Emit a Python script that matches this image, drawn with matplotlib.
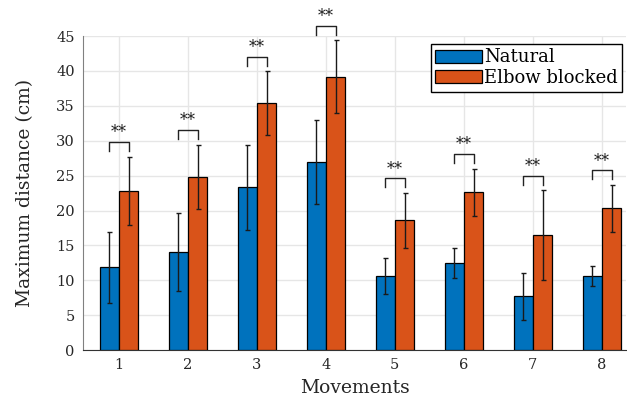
import numpy as np
import matplotlib
matplotlib.use("Agg")
import matplotlib.pyplot as plt

movements = ["1", "2", "3", "4", "5", "6", "7", "8"]
natural_mean = [11.85, 14.0, 23.3, 27.0, 10.6, 12.5, 7.7, 10.65]
natural_sd = [5.1, 5.6, 6.1, 6.0, 2.55, 2.15, 3.35, 1.4]
blocked_mean = [22.8, 24.8, 35.4, 39.2, 18.6, 22.6, 16.5, 20.3]
blocked_sd = [4.9, 4.65, 4.55, 5.2, 3.9, 3.4, 6.4, 3.35]
series_names = ["Natural", "Elbow blocked"]
colors = ["#0072BD", "#D95319"]

plt.rcParams['font.family'] = ['DejaVu Serif']

fig = plt.figure(figsize=(6.27, 4.01), dpi=100, facecolor="white")
ax = fig.add_axes([0.1324, 0.127, 0.866, 0.783])

x = np.arange(1, len(movements) + 1)
w = 0.28
err_kw = dict(ecolor="#1a1a1a", elinewidth=1.0, capsize=1.8, capthick=1.0)
ax.bar(x - w / 2, natural_mean, w, yerr=natural_sd, color=colors[0],
       edgecolor="black", linewidth=0.9, label=series_names[0], error_kw=err_kw, zorder=3)
ax.bar(x + w / 2, blocked_mean, w, yerr=blocked_sd, color=colors[1],
       edgecolor="black", linewidth=0.9, label=series_names[1], error_kw=err_kw, zorder=3)

# significance brackets
for i in range(len(movements)):
    top = max(natural_mean[i] + natural_sd[i], blocked_mean[i] + blocked_sd[i]) + 2.1
    xl, xr = x[i] - w / 2, x[i] + w / 2
    ax.plot([xl, xl, xr, xr], [top - 1.3, top, top, top - 1.3], color="#222222",
            lw=1.0, clip_on=False, zorder=4)
    ax.text(x[i], top + 0.1, "**", ha="center", va="bottom", fontsize=11.5,
            color="#222222", clip_on=False)

ax.set_xlim(0.48, 8.35)
ax.set_ylim(0, 45)
ax.set_xticks(x)
ax.set_xticklabels(movements)
ax.set_yticks(np.arange(0, 46, 5))
ax.tick_params(length=0, labelsize=10.5, colors="#262626", pad=6)
ax.grid(True, color="#e6e6e6", linewidth=1.0, zorder=0)
ax.set_axisbelow(True)
for s in ["top", "right"]:
    ax.spines[s].set_visible(False)
ax.spines["left"].set_color("#808080")
ax.spines["bottom"].set_color("#333333")
ax.set_xlabel("Movements", fontsize=13.5, color="#262626", labelpad=5)
ax.set_ylabel("Maximum distance (cm)", fontsize=13.5, color="#262626", labelpad=16)

leg = ax.legend(loc="upper right", bbox_to_anchor=(0.993, 0.975), borderaxespad=0,
                fancybox=False, edgecolor="black", framealpha=1, fontsize=13,
                handlelength=2.6, handleheight=0.75, handletextpad=0.1,
                borderpad=0.25, labelspacing=0.15)
leg.get_frame().set_linewidth(1.0)

plt.savefig("out.png", dpi=100, facecolor="white")
